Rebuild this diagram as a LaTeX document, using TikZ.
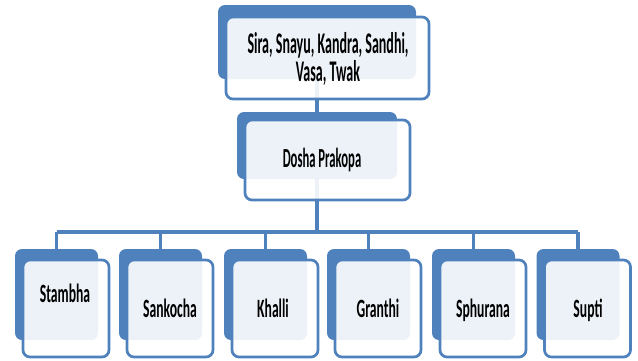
\documentclass[tikz,border=0pt]{standalone}
\usepackage{fontspec}
\setmainfont{Carlito}
\usepackage{graphicx}
\usepackage{tikz}
\definecolor{boxblue}{HTML}{4F81BD}
\tikzstyle{backbox}=[rectangle,rounded corners=7pt,fill=boxblue,draw=none,
                     inner sep=0pt]
\tikzstyle{frontbox}=[rectangle,rounded corners=7pt,draw=boxblue,line width=2.7pt,
                      fill=white,fill opacity=0.9,inner sep=0pt]
\tikzstyle{link}=[draw=boxblue,line width=3.2pt]
\tikzstyle{lbl}=[anchor=base,inner sep=0pt,font=\bfseries]
\newcommand{\sq}[3]{\scalebox{#1}[1.2]{\fontsize{#2}{21}\selectfont #3}}

\begin{document}
\begin{tikzpicture}[x=1pt,y=-1pt]
    \useasboundingbox (0,0) rectangle (638,360);
    \coordinate (bar) at (0,232);
    % back boxes
    \node (b0) at (317,42)    [backbox,minimum width=198pt,minimum height=74pt]{};
    \node (b1) at (317,145.5) [backbox,minimum width=160pt,minimum height=67pt]{};
    \node (s1) at (56.5,294.5)  [backbox,minimum width=83pt,minimum height=91pt]{};
    \node (s2) at (160.5,294.5) [backbox,minimum width=83pt,minimum height=91pt]{};
    \node (s3) at (265.5,294.5) [backbox,minimum width=83pt,minimum height=91pt]{};
    \node (s4) at (368.5,294.5) [backbox,minimum width=83pt,minimum height=91pt]{};
    \node (s5) at (473.5,294.5) [backbox,minimum width=83pt,minimum height=91pt]{};
    \node (s6) at (578,294.5)   [backbox,minimum width=83pt,minimum height=91pt]{};
    % connectors, behind the front boxes
    \draw[link] (b0.center) -- (b1.center);
    \draw[link] (b1.center) -- (b1.center |- bar);
    \draw[link] (s1.north |- bar) -- (s6.north |- bar);
    \draw[link] (s1.north |- bar) -- (s1.north);
    \draw[link] (s2.north |- bar) -- (s2.north);
    \draw[link] (s3.north |- bar) -- (s3.north);
    \draw[link] (s4.north |- bar) -- (s4.north);
    \draw[link] (s5.north |- bar) -- (s5.north);
    \draw[link] (s6.north |- bar) -- (s6.north);
    % front boxes
    \node (f0) at (327.5,58)  [frontbox,minimum width=203pt,minimum height=82pt]{};
    \node (f1) at (327.5,160) [frontbox,minimum width=165pt,minimum height=80pt]{};
    \node (g1) at (66,308.5)  [frontbox,minimum width=86pt,minimum height=97pt]{};
    \node (g2) at (170,308.5) [frontbox,minimum width=86pt,minimum height=97pt]{};
    \node (g3) at (275,308.5) [frontbox,minimum width=86pt,minimum height=97pt]{};
    \node (g4) at (378,308.5) [frontbox,minimum width=86pt,minimum height=97pt]{};
    \node (g5) at (483,308.5) [frontbox,minimum width=86pt,minimum height=97pt]{};
    \node (g6) at (587.5,308.5) [frontbox,minimum width=86pt,minimum height=97pt]{};
    % texts
    \node (t0) at (328,53.3) [lbl]{\sq{0.56}{25}{\begin{tabular}[t]{@{}c@{}}Sira, Snayu, Kandra, Sandhi,\\Vasa, Twak\end{tabular}}};
    \node (t1) at (322,167.5) [lbl]{\sq{0.55}{23}{Dosha Prakopa}};
    \node (u1) at (65,302)  [lbl]{\sq{0.62}{22}{Stambha}};
    \node (u2) at (170,317) [lbl]{\sq{0.62}{22}{Sankocha}};
    \node (u3) at (273,317) [lbl]{\sq{0.62}{22}{Khalli}};
    \node (u4) at (378,317) [lbl]{\sq{0.62}{22}{Granthi}};
    \node (u5) at (483,317) [lbl]{\sq{0.62}{22}{Sphurana}};
    \node (u6) at (588,317) [lbl]{\sq{0.62}{22}{Supti}};
\end{tikzpicture}
\end{document}
